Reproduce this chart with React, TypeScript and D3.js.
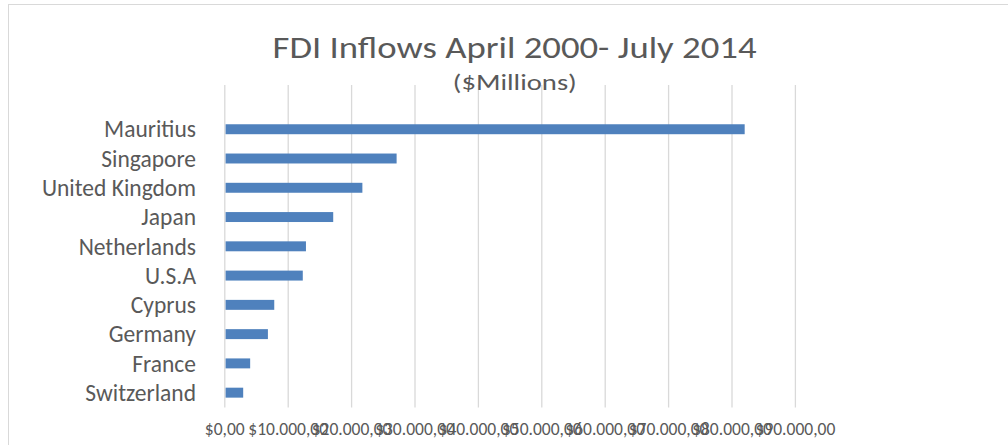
import React from "react";
import * as d3 from "d3";

const categories = [
  "Mauritius",
  "Singapore",
  "United Kingdom",
  "Japan",
  "Netherlands",
  "U.S.A",
  "Cyprus",
  "Germany",
  "France",
  "Switzerland",
];
const values = [82000, 27100, 21700, 17100, 12800, 12300, 7800, 6800, 4000, 2900];
const tickValues = [0, 10000, 20000, 30000, 40000, 50000, 60000, 70000, 80000, 90000];
const title = "FDI Inflows April 2000- July 2014";
const subtitle = "($Millions)";

const W = 1008;
const H = 445;
const FONT = "Carlito, Calibri, Lato, 'Open Sans', sans-serif";

function fmt(v: number): string {
  const s = d3.format(",.2f")(v);
  return "$" + s.replace(/,/g, "#").replace(/\./g, ",").replace(/#/g, ".");
}

export default function App() {
  const x = d3.scaleLinear().domain([0, 90000]).range([224.8, 795.4]);
  const y = d3.scaleBand<string>().domain(categories).range([114.6, 407.3]).padding(0);
  const step = y.step();
  const barH = step * 0.34;
  const gridTop = 85;
  const gridBottom = 407.5;

  return (
    <svg
      width={W}
      height={H}
      style={{ position: "absolute", left: 0, top: 0, display: "block" }}
    >
      <rect x={0} y={0} width={W} height={H} fill="#ffffff" />
      <rect x={8.5} y={4.5} width={W + 10} height={H + 10} fill="none" stroke="#d9d9d9" strokeWidth={1} />
      {tickValues.map((t) => (
        <line
          key={"g" + t}
          x1={x(t)}
          x2={x(t)}
          y1={gridTop}
          y2={gridBottom}
          stroke="#d9d9d9"
          strokeWidth={1.3}
        />
      ))}
      <text
        x={514.5}
        y={58.3}
        textAnchor="middle"
        fontFamily={FONT}
        fontSize={31}
        fontWeight={300}
        fill="#595959"
        textLength={484}
        lengthAdjust="spacingAndGlyphs"
      >
        {title}
      </text>
      <text
        x={514.8}
        y={90}
        textAnchor="middle"
        fontFamily={FONT}
        fontSize={23}
        fontWeight={300}
        fill="#595959"
        textLength={124}
        lengthAdjust="spacingAndGlyphs"
      >
        {subtitle}
      </text>
      {categories.map((c, i) => {
        const cy = (y(c) as number) + step / 2;
        return (
          <g key={c}>
            <rect
              x={x(0) + 0.8}
              y={cy - barH / 2}
              width={x(values[i]) - x(0) - 0.8}
              height={barH}
              fill="#4f81bd"
            />
            <text
              x={196}
              y={cy}
              dy="0.35em"
              textAnchor="end"
              fontFamily={FONT}
              fontSize={23.5}
              fill="#595959"
            >
              {c}
            </text>
          </g>
        );
      })}
      {tickValues.map((t) => (
        <text
          key={"t" + t}
          x={x(t)}
          y={435}
          textAnchor="middle"
          fontFamily={FONT}
          fontSize={17.5}
          fill="#595959"
        >
          {fmt(t)}
        </text>
      ))}
    </svg>
  );
}
